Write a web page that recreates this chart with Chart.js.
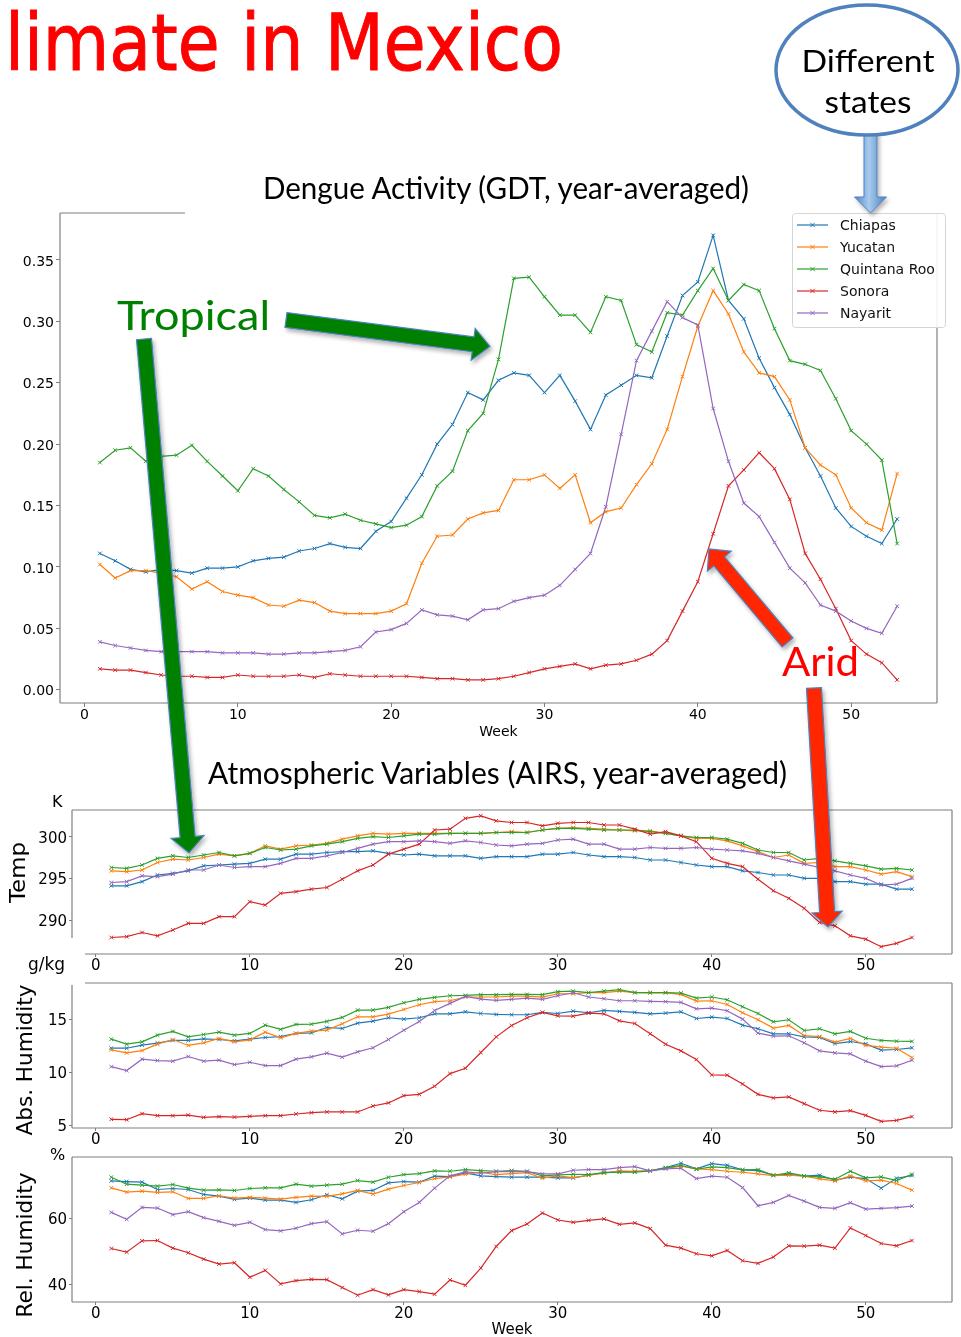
<!DOCTYPE html>
<html><head><meta charset="utf-8">
<script src="https://cdn.jsdelivr.net/npm/chart.js@4.4.1/dist/chart.umd.min.js"></script>
<style>
html,body{margin:0;padding:0;background:#fff;}
#wrap{position:relative;width:961px;height:1337px;overflow:hidden;background:#fff;}
canvas{position:absolute;left:0;top:0;}
svg{position:absolute;left:0;top:0;}
</style></head><body>
<div id="wrap">
<canvas id="cMain" width="961" height="1337"></canvas>
<canvas id="cTemp" width="961" height="1337"></canvas>
<canvas id="cAH" width="961" height="1337"></canvas>
<canvas id="cRH" width="961" height="1337"></canvas>
<svg id="ov" width="961" height="1337" xmlns="http://www.w3.org/2000/svg"></svg>
</div>
<script>
// ---------------- DATA ----------------
const weeks = [1,2,3,4,5,6,7,8,9,10,11,12,13,14,15,16,17,18,19,20,21,22,23,24,25,26,27,28,29,30,31,32,33,34,35,36,37,38,39,40,41,42,43,44,45,46,47,48,49,50,51,52,53];
const weekTicks = [0,10,20,30,40,50];
const states = ['Chiapas','Yucatan','Quintana Roo','Sonora','Nayarit'];

const gdtTicks = [0,0.05,0.10,0.15,0.20,0.25,0.30,0.35];
const gdtChiapas = [0.111,0.105,0.098,0.096,0.098,0.097,0.095,0.099,0.099,0.100,0.105,0.107,0.108,0.113,0.115,0.119,0.116,0.115,0.129,0.137,0.156,0.175,0.200,0.216,0.242,0.236,0.252,0.258,0.256,0.242,0.256,0.235,0.212,0.240,0.248,0.256,0.254,0.288,0.321,0.332,0.370,0.317,0.302,0.270,0.246,0.224,0.197,0.174,0.148,0.133,0.125,0.119,0.139];
const gdtYucatan = [0.102,0.091,0.097,0.097,0.095,0.092,0.082,0.088,0.080,0.077,0.075,0.069,0.068,0.073,0.071,0.064,0.062,0.062,0.062,0.064,0.070,0.103,0.125,0.126,0.139,0.144,0.146,0.171,0.171,0.175,0.164,0.175,0.136,0.145,0.148,0.167,0.184,0.212,0.255,0.296,0.325,0.306,0.275,0.258,0.255,0.236,0.197,0.183,0.175,0.148,0.136,0.130,0.176];
const gdtQuintanaRoo = [0.185,0.195,0.197,0.186,0.190,0.191,0.199,0.186,0.174,0.162,0.180,0.174,0.163,0.153,0.142,0.140,0.143,0.138,0.135,0.132,0.134,0.141,0.166,0.178,0.211,0.225,0.269,0.335,0.336,0.320,0.305,0.305,0.291,0.320,0.317,0.281,0.275,0.307,0.305,0.325,0.343,0.317,0.330,0.325,0.294,0.268,0.265,0.260,0.237,0.211,0.200,0.187,0.119];
const gdtSonora = [0.017,0.016,0.016,0.014,0.012,0.011,0.011,0.010,0.010,0.012,0.011,0.011,0.011,0.012,0.010,0.013,0.012,0.011,0.011,0.011,0.011,0.010,0.009,0.009,0.008,0.008,0.009,0.011,0.014,0.017,0.019,0.021,0.017,0.020,0.021,0.024,0.029,0.040,0.064,0.088,0.127,0.166,0.179,0.193,0.180,0.155,0.111,0.090,0.066,0.040,0.029,0.022,0.008];
const gdtNayarit = [0.039,0.036,0.034,0.032,0.031,0.031,0.031,0.031,0.030,0.030,0.030,0.029,0.029,0.030,0.030,0.031,0.032,0.035,0.047,0.049,0.054,0.065,0.061,0.060,0.057,0.065,0.066,0.072,0.075,0.077,0.085,0.098,0.111,0.149,0.208,0.268,0.292,0.316,0.303,0.297,0.229,0.186,0.152,0.141,0.120,0.099,0.087,0.069,0.064,0.056,0.050,0.046,0.068];

const tempTicks = [290,295,300];
const tempChiapas = [294.1,294.1,294.6,295.4,295.6,295.9,296.5,296.6,296.7,296.8,297.3,297.3,297.9,297.9,298.1,298.2,298.2,298.3,298.0,297.8,297.9,297.7,297.7,297.7,297.4,297.6,297.6,297.6,297.9,297.9,298.1,297.8,297.6,297.6,297.5,297.2,297.2,296.9,296.6,296.4,296.4,295.9,295.7,295.4,295.4,295.0,295.0,294.6,294.6,294.3,294.3,293.7,293.7];
const tempYucatan = [295.9,295.8,296.0,296.9,297.3,297.2,297.5,297.9,297.7,298.0,298.9,298.5,298.9,299.0,299.2,299.7,300.1,300.4,300.3,300.4,300.4,300.4,300.4,300.4,300.4,300.5,300.6,300.5,300.8,301.0,301.1,301.0,300.9,300.8,300.7,300.7,300.4,300.1,299.8,299.8,299.5,298.9,298.2,297.5,297.8,296.8,296.9,296.4,296.4,296.0,295.5,295.8,295.2];
const tempQuintanaRoo = [296.3,296.2,296.6,297.4,297.7,297.5,297.8,298.1,297.7,298.0,298.7,298.4,298.5,298.9,299.1,299.4,299.8,300.0,299.9,300.1,300.3,300.3,300.4,300.4,300.4,300.5,300.5,300.5,300.8,301.0,301.0,300.9,300.8,300.8,300.8,300.6,300.4,300.1,299.9,299.9,299.7,299.2,298.4,298.1,298.1,297.2,297.4,297.1,296.8,296.5,296.1,296.2,296.0];
const tempSonora = [287.9,288.0,288.5,288.1,288.8,289.6,289.6,290.4,290.4,292.2,291.8,293.2,293.4,293.7,293.9,294.9,295.9,296.6,297.9,298.5,299.1,300.8,300.9,302.2,302.5,301.9,301.7,301.7,301.3,301.6,301.7,301.7,301.4,301.4,300.9,300.3,300.6,300.1,299.4,297.4,296.8,296.4,294.9,293.5,292.6,291.4,289.7,289.3,288.1,287.7,286.8,287.2,287.9];
const tempNayarit = [294.5,294.6,295.3,295.2,295.5,296.0,296.0,296.6,296.3,296.4,296.4,296.8,297.4,297.4,297.7,298.1,298.6,299.1,299.4,299.4,299.5,299.4,299.2,299.5,299.3,299.0,298.9,299.1,299.2,299.6,299.7,299.1,299.1,298.5,298.5,298.7,298.6,298.6,298.7,298.5,298.4,298.3,298.0,297.5,297.1,296.7,296.3,295.9,295.4,295.0,294.2,294.3,295.0];

const ahTicks = [5,10,15];
const ahChiapas = [12.26,12.26,12.55,12.74,12.99,12.99,13.14,13.08,12.96,13.11,13.27,13.36,13.65,13.71,14.21,14.12,14.62,14.81,15.13,15.0,15.13,15.5,15.5,15.69,15.53,15.44,15.41,15.41,15.63,15.53,15.75,15.6,15.82,15.72,15.63,15.5,15.57,15.69,15.06,15.19,15.06,14.43,14.09,13.62,13.62,13.33,13.27,12.7,12.89,12.67,12.08,12.14,12.3];
const ahYucatan = [12.1,11.82,12.04,12.64,13.08,12.52,12.77,13.18,12.86,13.05,13.77,13.24,13.65,13.87,13.96,14.56,15.22,15.22,15.47,15.91,16.35,16.64,16.73,17.08,17.08,17.08,17.17,17.17,17.08,17.39,17.39,17.5,17.5,17.64,17.5,17.47,17.47,17.33,16.7,16.73,16.38,15.6,14.94,14.15,14.4,13.46,13.36,12.83,13.18,12.52,12.36,12.26,11.38];
const ahQuintanaRoo = [13.11,12.64,12.86,13.49,13.84,13.33,13.55,13.77,13.49,13.65,14.43,14.03,14.5,14.53,14.78,15.16,15.85,15.85,16.1,16.54,16.86,17.04,17.2,17.23,17.3,17.3,17.33,17.33,17.3,17.58,17.64,17.5,17.64,17.77,17.5,17.5,17.5,17.45,16.98,17.08,16.82,16.16,15.53,14.75,14.94,13.93,14.09,13.62,13.84,13.2,12.99,12.92,12.9];
const ahSonora = [5.57,5.53,6.1,5.91,5.91,5.97,5.75,5.82,5.78,5.85,5.91,5.91,6.07,6.19,6.26,6.26,6.26,6.82,7.11,7.8,7.92,8.68,9.87,10.38,11.86,13.33,14.4,15.13,15.63,15.31,15.28,15.57,15.5,14.84,14.59,13.62,12.64,12.01,11.2,9.75,9.72,8.9,7.92,7.58,7.67,7.04,6.42,6.26,6.38,5.94,5.38,5.47,5.82];
const ahNayarit = [10.53,10.16,11.23,11.1,11.04,11.48,11.04,11.13,10.72,10.94,10.63,10.63,11.23,11.45,11.79,11.42,11.92,12.3,13.08,13.96,14.78,15.82,16.48,17.14,16.89,16.76,16.86,16.98,16.86,17.2,17.48,17.08,16.92,16.73,16.73,16.67,16.64,16.57,15.97,16.04,15.79,15.0,13.68,13.4,13.43,12.77,12.01,11.82,11.73,11.04,10.53,10.6,11.13];

const rhTicks = [40,60];
const rhChiapas = [71.3,71.1,70.9,68.7,69.0,68.7,67.2,66.7,65.7,66.1,65.5,65.5,64.8,65.6,67.1,65.9,68.2,68.4,70.7,71.1,70.9,72.7,72.6,73.7,72.8,72.6,72.4,72.4,72.4,72.2,72.2,73.0,73.8,74.1,74.1,74.3,75.3,76.6,74.9,76.5,76.0,74.6,74.4,73.0,73.3,72.7,73.0,71.5,72.4,72.0,69.1,72.1,72.9];
const rhYucatan = [69.2,67.9,68.2,67.8,68.0,66.0,66.0,66.8,66.1,66.3,66.1,65.8,66.3,66.7,66.6,67.4,68.4,67.3,68.8,69.9,70.8,72.0,72.5,73.3,73.9,73.2,73.5,73.8,72.1,72.8,72.3,73.0,73.6,74.3,74.2,74.3,75.1,75.7,74.9,74.7,74.2,73.9,73.4,72.9,73.0,72.7,71.9,71.3,72.8,71.3,71.5,70.5,68.5];
const rhQuintanaRoo = [72.4,70.3,70.0,69.7,70.2,69.1,68.5,68.6,68.4,69.0,69.2,69.2,70.3,69.7,70.0,70.3,71.4,70.9,72.4,73.2,73.5,74.3,74.2,74.7,74.4,74.2,74.4,74.2,72.8,73.1,73.3,73.2,73.8,73.9,73.9,74.3,75.2,76.0,74.8,75.5,75.3,74.6,74.7,73.0,73.7,72.8,72.5,71.8,74.2,72.2,72.5,71.4,73.3];
const rhSonora = [50.9,49.8,53.2,53.3,51.0,49.6,47.7,46.2,46.6,42.2,44.3,40.2,41.2,41.6,41.5,39.1,36.8,38.5,36.9,38.5,37.9,37.1,41.4,39.8,45.0,51.5,56.3,58.3,61.6,59.5,58.8,59.4,59.8,58.2,58.6,56.9,51.9,51.0,49.3,48.7,50.3,47.2,46.4,48.3,51.7,51.6,51.9,51.0,57.1,54.8,52.4,51.7,53.3];
const rhNayarit = [61.8,59.7,63.3,63.1,61.1,62.0,60.2,59.1,57.9,58.8,56.6,56.2,57.0,58.4,59.0,55.3,56.4,56.1,58.4,62.0,64.8,69.1,72.8,74.0,73.6,74.1,74.1,74.1,73.4,73.4,74.5,74.7,74.7,75.3,75.6,74.3,74.9,75.1,72.0,72.7,72.4,69.3,63.8,64.8,66.9,65.2,63.3,63.0,64.7,62.8,63.0,63.2,63.7];

// ---------------- STYLE ----------------
const W = 961, H = 1337;
const FONT = "'DejaVu Sans', sans-serif";
const colors = ['#1f77b4','#ff7f0e','#2ca02c','#d62728','#9467bd'];
const SPINE = '#7f7f7f';

const framePlugin = {
  id: 'frame',
  afterDatasetsDraw(chart, args, o) {
    const ca = chart.chartArea, ctx = chart.ctx;
    ctx.save();
    ctx.strokeStyle = SPINE; ctx.lineWidth = 1.2;
    const seg = (x1,y1,x2,y2) => { ctx.beginPath(); ctx.moveTo(x1,y1); ctx.lineTo(x2,y2); ctx.stroke(); };
    const t = o.top || [ca.left, ca.right], b = o.bottom || [ca.left, ca.right];
    const l = o.left || [ca.top, ca.bottom], r = o.right || [ca.top, ca.bottom];
    seg(t[0], ca.top, t[1], ca.top);
    seg(b[0], ca.bottom, b[1], ca.bottom);
    seg(ca.left, l[0], ca.left, l[1]);
    seg(ca.right, r[0], ca.right, r[1]);
    ctx.restore();
  }
};

const legendPlugin = {
  id: 'mplLegend',
  afterDraw(chart, args, o) {
    if (!o.show) return;
    const ctx = chart.ctx;
    ctx.save();
    ctx.fillStyle = 'rgba(255,255,255,0.9)';
    ctx.strokeStyle = '#d5d5d5'; ctx.lineWidth = 1;
    ctx.beginPath();
    if (ctx.roundRect) ctx.roundRect(o.x + 0.5, o.y + 0.5, o.w, o.h, 3); else ctx.rect(o.x + 0.5, o.y + 0.5, o.w, o.h);
    ctx.fill(); ctx.stroke();
    ctx.font = '14px ' + FONT; ctx.textBaseline = 'middle'; ctx.fillStyle = '#111';
    chart.data.datasets.forEach((d, i) => {
      const yy = o.y0 + i * o.dy;
      ctx.strokeStyle = d.borderColor; ctx.lineWidth = 1.2;
      ctx.beginPath(); ctx.moveTo(o.x + 5, yy); ctx.lineTo(o.x + 36, yy); ctx.stroke();
      const cx = o.x + 20.5, r = 2.2;
      ctx.lineWidth = 1;
      ctx.beginPath(); ctx.moveTo(cx - r, yy - r); ctx.lineTo(cx + r, yy + r); ctx.moveTo(cx - r, yy + r); ctx.lineTo(cx + r, yy - r); ctx.stroke();
      ctx.fillStyle = '#111';
      ctx.fillText(d.label, o.x + 48, yy + 1);
    });
    ctx.restore();
  }
};

function makeChart(id, series, cfg) {
  const ds = series.map((vals, i) => ({
    label: states[i],
    data: weeks.map((w, j) => ({x: w, y: vals[j]})),
    borderColor: colors[i], backgroundColor: colors[i],
    borderWidth: cfg.lw, pointStyle: 'crossRot', pointRadius: cfg.pr, pointHoverRadius: cfg.pr,
    pointBorderWidth: 1, pointBorderColor: colors[i], fill: false, tension: 0,
    order: series.length - i
  }));
  const tickGrid = { display: true, drawOnChartArea: false, drawTicks: true, tickLength: cfg.tl, color: SPINE, lineWidth: 1 };
  return new Chart(document.getElementById(id), {
    type: 'line',
    data: { datasets: ds },
    options: {
      responsive: false, animation: false, devicePixelRatio: 1, events: [],
      layout: { padding: { left: 0, top: cfg.box.t, right: W - cfg.box.r, bottom: H - cfg.box.b - cfg.xH } },
      plugins: { legend: {display: false}, tooltip: {enabled: false}, title: {display: false},
                 frame: cfg.frame || {}, mplLegend: cfg.legend || {show: false} },
      scales: {
        x: { type: 'linear', min: cfg.xMin, max: cfg.xMax,
          afterBuildTicks: s => { s.ticks = weekTicks.map(v => ({value: v})); },
          afterFit: s => { s.height = cfg.xH; },
          grid: tickGrid, border: {display: false},
          ticks: { color: '#000', font: {size: cfg.fs, family: FONT}, padding: cfg.tpx, maxRotation: 0, minRotation: 0, autoSkip: false, callback: v => String(v) },
          title: cfg.xTitle ? { display: true, text: 'Week', color: '#000', font: {size: cfg.fs, family: FONT}, padding: {top: 0, bottom: cfg.xTitlePad} } : {display: false}
        },
        y: { type: 'linear', min: cfg.yMin, max: cfg.yMax,
          afterBuildTicks: s => { s.ticks = cfg.yTicks.map(v => ({value: v})); },
          afterFit: s => { s.width = cfg.box.l; },
          grid: tickGrid, border: {display: false},
          ticks: { color: '#000', font: {size: cfg.fs, family: FONT}, padding: cfg.tpy, labelOffset: 2, autoSkip: false, callback: v => cfg.yFmt(v) }
        }
      }
    },
    plugins: [framePlugin, legendPlugin]
  });
}

makeChart('cMain', [gdtChiapas, gdtYucatan, gdtQuintanaRoo, gdtSonora, gdtNayarit], {
  box: {l: 60, t: 213, r: 937, b: 703}, xH: 40, xMin: -1.6, xMax: 55.6, yMin: -0.0108, yMax: 0.3882,
  yTicks: gdtTicks, yFmt: v => v.toFixed(2), fs: 14, tl: 4, tpx: 0, tpy: 2, lw: 1.2, pr: 2.6,
  xTitle: true, xTitlePad: 2,
  frame: { top: [60, 185] },
  legend: { show: true, x: 792, y: 213, w: 153, h: 114, y0: 225, dy: 22 }
});
makeChart('cTemp', [tempChiapas, tempYucatan, tempQuintanaRoo, tempSonora, tempNayarit], {
  box: {l: 72, t: 810, r: 952, b: 954}, xH: 24, xMin: -1.55, xMax: 55.6, yMin: 285.92, yMax: 303.2,
  yTicks: tempTicks, yFmt: v => String(v), fs: 15, tl: 3, tpx: 0, tpy: 2, lw: 1.2, pr: 2.6,
  frame: { left: [810, 938], bottom: [85, 952] }
});
makeChart('cAH', [ahChiapas, ahYucatan, ahQuintanaRoo, ahSonora, ahNayarit], {
  box: {l: 72, t: 983, r: 952, b: 1128}, xH: 24, xMin: -1.55, xMax: 55.6, yMin: 4.75, yMax: 18.4,
  yTicks: ahTicks, yFmt: v => String(v), fs: 15, tl: 3, tpx: 0, tpy: 2, lw: 1.2, pr: 2.6,
  frame: { top: [85, 952], left: [985, 1128] }
});
makeChart('cRH', [rhChiapas, rhYucatan, rhQuintanaRoo, rhSonora, rhNayarit], {
  box: {l: 72, t: 1157, r: 952, b: 1302}, xH: 35, xMin: -1.55, xMax: 55.6, yMin: 34.75, yMax: 78.5,
  yTicks: rhTicks, yFmt: v => String(v), fs: 15, tl: 3, tpx: 0, tpy: 2, lw: 1.2, pr: 2.6,
  xTitle: true, xTitlePad: -2
});

// ---------------- ANNOTATIONS (SVG overlay) ----------------
function arrowPts(x1, y1, x2, y2, sw, hw, hl) {
  const dx = x2 - x1, dy = y2 - y1, L = Math.hypot(dx, dy), ux = dx / L, uy = dy / L, nx = -uy, ny = ux;
  const bx = x2 - ux * hl, by = y2 - uy * hl;
  const P = (x, y) => x.toFixed(1) + ',' + y.toFixed(1);
  return [P(x1 + nx*sw/2, y1 + ny*sw/2), P(bx + nx*sw/2, by + ny*sw/2), P(bx + nx*hw/2, by + ny*hw/2), P(x2, y2),
          P(bx - nx*hw/2, by - ny*hw/2), P(bx - nx*sw/2, by - ny*sw/2), P(x1 - nx*sw/2, y1 - ny*sw/2)].join(' ');
}
const CAL = "Lato, 'Open Sans', sans-serif";
const svg = document.getElementById('ov');
svg.innerHTML = `
<defs>
  <filter id="sh" x="-20%" y="-20%" width="140%" height="140%">
    <feDropShadow dx="2" dy="3" stdDeviation="2" flood-color="#000" flood-opacity="0.3"/>
  </filter>
  <linearGradient id="bg" x1="0" y1="0" x2="1" y2="0">
    <stop offset="0" stop-color="#4f86c6"/><stop offset="0.45" stop-color="#a8cbee"/><stop offset="1" stop-color="#4a7fc0"/>
  </linearGradient>
</defs>
<text x="5" y="70" font-family="'Comic Sans MS', 'DejaVu Sans', sans-serif" font-size="78" fill="#ff0000" stroke="#ff0000" stroke-width="1" textLength="558" lengthAdjust="spacingAndGlyphs">limate in Mexico</text>
<text x="263" y="199" font-family="${CAL}" font-size="30" fill="#000" textLength="486" lengthAdjust="spacingAndGlyphs">Dengue Activity (GDT, year-averaged)</text>
<text x="208" y="784" font-family="${CAL}" font-size="30" fill="#000" textLength="579" lengthAdjust="spacingAndGlyphs">Atmospheric Variables (AIRS, year-averaged)</text>
<text x="52" y="807" font-family="${FONT}" font-size="16" fill="#000">K</text>
<text x="28" y="970" font-family="${FONT}" font-size="17" fill="#000">g/kg</text>
<text x="50" y="1160" font-family="${FONT}" font-size="16" fill="#000">%</text>
<text transform="translate(25,872.5) rotate(-90)" text-anchor="middle" font-family="${FONT}" font-size="22" fill="#000" textLength="61" lengthAdjust="spacingAndGlyphs">Temp</text>
<text transform="translate(32,1060) rotate(-90)" text-anchor="middle" font-family="${FONT}" font-size="22" fill="#000" textLength="151" lengthAdjust="spacingAndGlyphs">Abs. Humidity</text>
<text transform="translate(32,1245) rotate(-90)" text-anchor="middle" font-family="${FONT}" font-size="22" fill="#000" textLength="145" lengthAdjust="spacingAndGlyphs">Rel. Humidity</text>
<polygon points="${arrowPts(870.5,130,870.5,213,13,32,16)}" fill="url(#bg)" stroke="#4f81bd" stroke-width="1" filter="url(#sh)"/>
<ellipse cx="867" cy="70" rx="91" ry="65" fill="#fff" stroke="#4f81bd" stroke-width="3.5"/>
<text x="868" y="72" text-anchor="middle" font-family="${CAL}" font-size="31" fill="#000" textLength="133" lengthAdjust="spacingAndGlyphs">Different</text>
<text x="868" y="113" text-anchor="middle" font-family="${CAL}" font-size="31" fill="#000" textLength="87" lengthAdjust="spacingAndGlyphs">states</text>
<text x="117" y="330" font-family="${CAL}" font-size="41" fill="#008000" textLength="153" lengthAdjust="spacingAndGlyphs">Tropical</text>
<polygon points="${arrowPts(286,320,490,346.5,15,32,17)}" fill="#008000" stroke="#4f81bd" stroke-width="1.2" filter="url(#sh)"/>
<polygon points="${arrowPts(144,339,189,853,15,33,16)}" fill="#008000" stroke="#4f81bd" stroke-width="1.2" filter="url(#sh)"/>
<polygon points="${arrowPts(787.5,642.5,709,549,14,31,16)}" fill="#ff2600" stroke="#4f81bd" stroke-width="1.2" filter="url(#sh)"/>
<text x="782" y="676" font-family="${CAL}" font-size="40" fill="#ff0000" textLength="77" lengthAdjust="spacingAndGlyphs">Arid</text>
<polygon points="${arrowPts(814,688,828,927,15,30,15)}" fill="#ff2600" stroke="#4f81bd" stroke-width="1.2" filter="url(#sh)"/>
`;
</script>
</body></html>
